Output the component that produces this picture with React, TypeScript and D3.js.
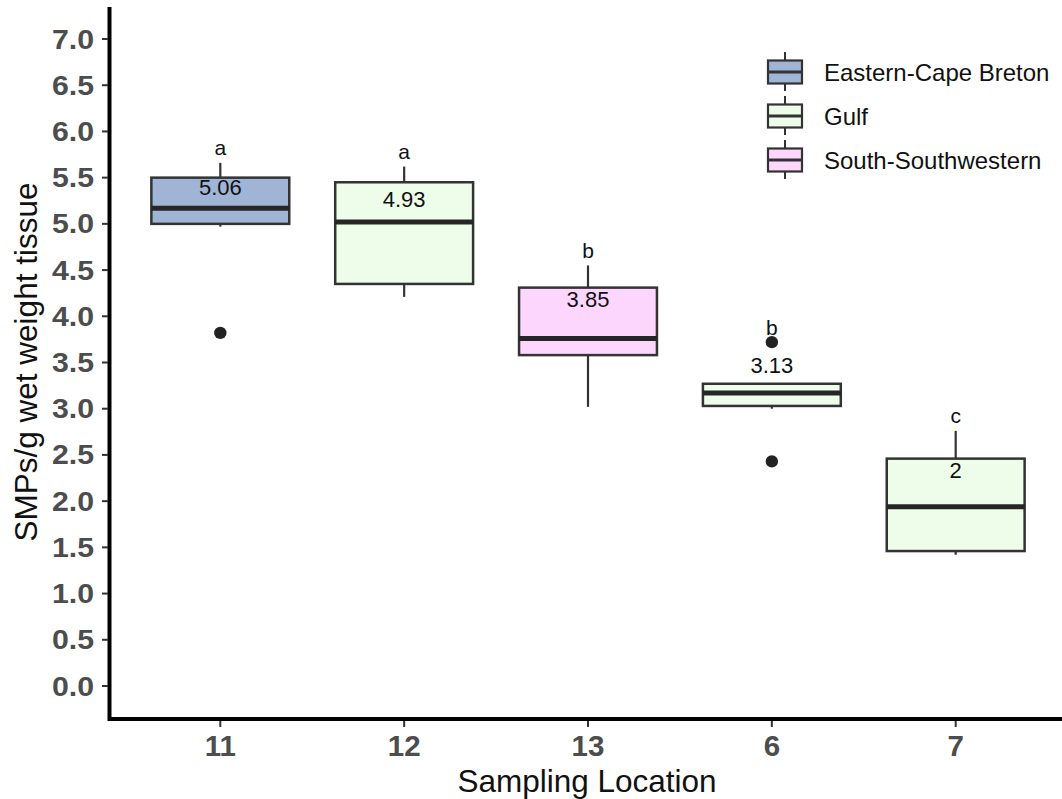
import React from "react";
import * as d3 from "d3";

const locations = ["11", "12", "13", "6", "7"];
const regions = ["Eastern-Cape Breton", "Gulf", "South-Southwestern", "Gulf", "Gulf"];
const lowerWhisker = [4.97, 4.21, 3.02, 3.0, 1.42];
const q1 = [5.0, 4.35, 3.58, 3.03, 1.46];
const median = [5.17, 5.02, 3.76, 3.17, 1.94];
const q3 = [5.5, 5.45, 4.31, 3.27, 2.46];
const upperWhisker = [5.66, 5.62, 4.55, 3.27, 2.76];
const outliers = [[3.82], [], [], [3.72, 2.43], []];
const means = [5.06, 4.93, 3.85, 3.13, 2];
const letters = ["a", "a", "b", "b", "c"];
const yTicks = [0, 0.5, 1, 1.5, 2, 2.5, 3, 3.5, 4, 4.5, 5, 5.5, 6, 6.5, 7];

const legendNames = ["Eastern-Cape Breton", "Gulf", "South-Southwestern"];
const legendColors = ["#a0b4d5", "#edfdea", "#fdd6fd"];

const width = 1062;
const height = 799;
const left = 110;
const right = 1066;
const top = 7;
const bottom = 719;

const x = d3.scalePoint().domain(locations).range([left, right]).padding(0.6);
const y = d3.scaleLinear().domain([0, 7]).range([686, 39]);
const color = d3.scaleOrdinal<string, string>().domain(legendNames).range(legendColors);
const fmt = d3.format(".1f");

const boxWidth = x.step() * 0.75;
const stroke = "#333333";

export default function App() {
  return (
    <svg
      width={width}
      height={height}
      style={{ position: "absolute", left: 0, top: 0, background: "#fff" }}
      fontFamily="Liberation Sans, Arial, sans-serif"
    >
      {/* boxes */}
      {locations.map((loc, i) => {
        const cx = x(loc) as number;
        const x0 = cx - boxWidth / 2;
        const upMax = Math.max(upperWhisker[i], ...outliers[i]);
        return (
          <g key={loc}>
            <line x1={cx} x2={cx} y1={y(upperWhisker[i])} y2={y(q3[i])} stroke={stroke} strokeWidth={2.2} />
            <line x1={cx} x2={cx} y1={y(q1[i])} y2={y(lowerWhisker[i])} stroke={stroke} strokeWidth={2.2} />
            <rect
              x={x0}
              y={y(q3[i])}
              width={boxWidth}
              height={y(q1[i]) - y(q3[i])}
              fill={color(regions[i])}
              stroke={stroke}
              strokeWidth={2.5}
            />
            <line x1={x0} x2={x0 + boxWidth} y1={y(median[i])} y2={y(median[i])} stroke="#262626" strokeWidth={5} />
            {outliers[i].map((o, j) => (
              <circle key={j} cx={cx} cy={y(o)} r={6.2} fill="#222" />
            ))}
            <text x={cx} y={y(means[i]) - 31} textAnchor="middle" dominantBaseline="central" fontSize={22} fill="#111">
              {String(means[i])}
            </text>
            <text x={cx} y={y(upMax) - 15} textAnchor="middle" dominantBaseline="central" fontSize={21} fill="#111">
              {letters[i]}
            </text>
          </g>
        );
      })}

      {/* y axis */}
      <line x1={109.5} x2={109.5} y1={top} y2={bottom + 2} stroke="#000" strokeWidth={4} />
      {yTicks.map((t) => (
        <g key={t}>
          <line x1={102} x2={108} y1={y(t)} y2={y(t)} stroke="#333" strokeWidth={2} />
          <text
            transform={`translate(94,${y(t)}) scale(1.1,1)`}
            textAnchor="end"
            dominantBaseline="central"
            fontWeight="bold"
            fontSize={27.5}
            fill="#4d4d4d"
          >
            {fmt(t)}
          </text>
        </g>
      ))}

      {/* x axis */}
      <line x1={108} x2={width} y1={bottom} y2={bottom} stroke="#000" strokeWidth={4} />
      {locations.map((loc) => (
        <g key={loc}>
          <line x1={x(loc)} x2={x(loc)} y1={bottom + 2} y2={bottom + 8} stroke="#333" strokeWidth={2} />
          <text x={x(loc)} y={756} textAnchor="middle" fontWeight="bold" fontSize={29.5} fill="#4d4d4d">
            {loc}
          </text>
        </g>
      ))}

      {/* axis titles */}
      <text x={587} y={792} textAnchor="middle" fontSize={31.5} fill="#111">
        Sampling Location
      </text>
      <text transform="translate(37,362) rotate(-90)" textAnchor="middle" fontSize={31.5} fill="#111">
        SMPs/g wet weight tissue
      </text>

      {/* legend */}
      {legendNames.map((name, i) => {
        const cy = 72 + i * 44;
        return (
          <g key={name}>
            <line x1={785} x2={785} y1={cy - 20} y2={cy + 19} stroke={stroke} strokeWidth={2} />
            <rect x={768} y={cy - 11.5} width={34} height={23} fill={legendColors[i]} stroke={stroke} strokeWidth={2.2} />
            <line x1={768} x2={802} y1={cy} y2={cy} stroke={stroke} strokeWidth={3} />
            <text x={824} y={cy} dominantBaseline="central" fontSize={24} fill="#111">
              {name}
            </text>
          </g>
        );
      })}
    </svg>
  );
}
